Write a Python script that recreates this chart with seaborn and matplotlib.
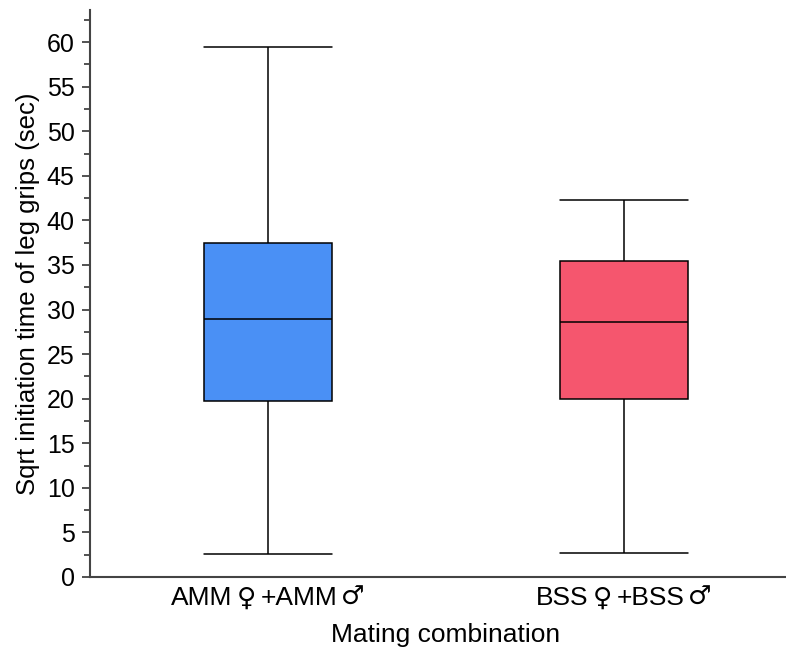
import matplotlib
matplotlib.use("Agg")
import matplotlib.pyplot as plt
import seaborn as sns
import pandas as pd
from matplotlib.ticker import MultipleLocator
from matplotlib.offsetbox import TextArea, HPacker, AnnotationBbox

categories = ["AMM♀+AMM♂", "BSS♀+BSS♂"]
# five-number summaries: min, Q1, median, Q3, max
amm_values = [2.6, 19.7, 28.9, 37.5, 59.5]
bss_values = [2.7, 20.0, 28.6, 35.4, 42.3]
colors = ["#4A90F5", "#F5566E"]

df = pd.DataFrame({
    "group": [categories[0]] * len(amm_values) + [categories[1]] * len(bss_values),
    "value": amm_values + bss_values,
})

sns.set_style("ticks")
plt.rcParams["font.family"] = ["Liberation Sans", "DejaVu Sans"]
plt.rcParams["text.color"] = "black"
plt.rcParams["axes.labelcolor"] = "black"
plt.rcParams["xtick.color"] = "black"
plt.rcParams["ytick.color"] = "black"

fig = plt.figure(figsize=(7.86, 6.5), dpi=100)
ax = fig.add_axes([90 / 786, 1 - 577 / 650, 712 / 786, 567 / 650])

box_w = 0.36
sns.boxplot(data=df, x="group", y="value", hue="group", palette=colors,
            order=categories, whis=(0, 100), width=box_w, linewidth=1.1,
            linecolor="black", fliersize=0, legend=False, saturation=1, ax=ax)

# caps span the full box width
for ln in ax.lines:
    xd, yd = ln.get_xdata(), ln.get_ydata()
    if len(xd) == 2 and yd[0] == yd[1]:
        c = (xd[0] + xd[1]) / 2
        ln.set_xdata([c - box_w / 2, c + box_w / 2])

ax.set_xlim(-0.5, 1.5)
ax.set_ylim(0, 63.6)
ax.yaxis.set_major_locator(MultipleLocator(5))
ax.yaxis.set_minor_locator(MultipleLocator(2.5))
ax.tick_params(axis="y", which="major", length=6, width=1.3, color="#444444", labelsize=18, pad=5)
ax.tick_params(axis="y", which="minor", length=4.5, width=1.3, color="#444444")
ax.tick_params(axis="x", length=0, labelbottom=False)
for s in ["top", "right"]:
    ax.spines[s].set_visible(False)
for s in ["left", "bottom"]:
    ax.spines[s].set_color("#444444")
    ax.spines[s].set_linewidth(1.5)

# category labels: letters in Liberation Sans, sex symbols in DejaVu Sans
sym_font = {"fontsize": 19, "fontfamily": "DejaVu Sans", "color": "black"}
txt_font = {"fontsize": 19, "fontfamily": "Liberation Sans", "color": "black"}
for i, cat in enumerate(categories):
    parts = []
    buf = ""
    for ch in cat:
        if ch in "♀♂":
            if buf:
                parts.append(TextArea(buf, textprops=txt_font))
                buf = ""
            parts.append(TextArea(ch, textprops=sym_font))
        else:
            buf += ch
    if buf:
        parts.append(TextArea(buf, textprops=txt_font))
    pack = HPacker(children=parts, align="baseline", pad=0, sep=3)
    ab = AnnotationBbox(pack, (i, 0), xycoords=("data", "axes fraction"),
                        xybox=(0, -6), boxcoords="offset points",
                        box_alignment=(0.5, 1), frameon=False, pad=0)
    ax.add_artist(ab)

ax.set_xlabel("Mating combination", fontsize=19, labelpad=33)
ax.set_ylabel("Sqrt initiation time of leg grips (sec)", fontsize=18.5, labelpad=5)

fig.savefig("out.png", dpi=100)
